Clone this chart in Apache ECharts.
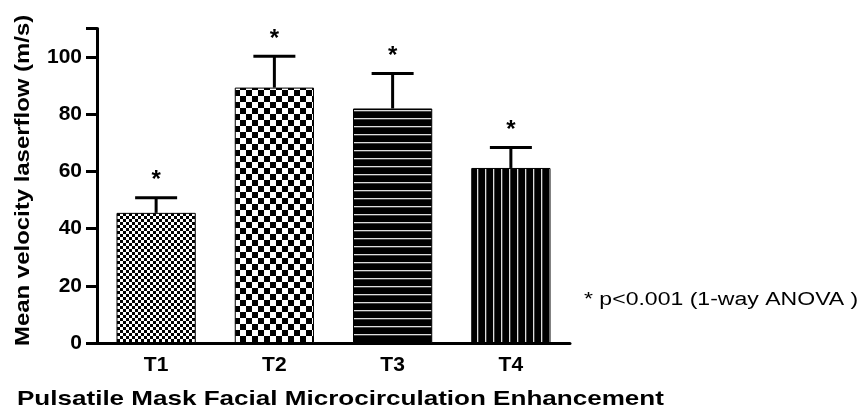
<!DOCTYPE html>
<html><head><meta charset="utf-8">
<script src="https://cdn.jsdelivr.net/npm/echarts@6/dist/echarts.min.js"></script>
<style>html,body{margin:0;padding:0;background:#fff}#c{width:868px;height:420px}</style>
</head><body><div id="c"></div>
<script>
const categories = ['T1', 'T2', 'T3', 'T4'];
const means = [45.5, 89.3, 82.0, 61.2];
const errors = [5.3, 11.0, 12.2, 7.2];
const yTicks = [0, 20, 40, 60, 80, 100];
const xTitle = 'Pulsatile Mask Facial Microcirculation Enhancement';
const yTitle = 'Mean velocity laserflow (m/s)';
const note = '* p<0.001 (1-way ANOVA )';

function makePattern(kind) {
  const c = document.createElement('canvas');
  const ctx = c.getContext('2d');
  if (kind === 'fineChecker' || kind === 'checker') {
    const s = kind === 'fineChecker' ? 3 : 6;
    c.width = c.height = s * 2;
    ctx.fillStyle = '#fff'; ctx.fillRect(0, 0, s * 2, s * 2);
    ctx.fillStyle = '#000'; ctx.fillRect(0, 0, s, s); ctx.fillRect(s, s, s, s);
  } else if (kind === 'hlines') {
    c.width = 8; c.height = 8;
    ctx.fillStyle = '#000'; ctx.fillRect(0, 0, 8, 8);
    ctx.fillStyle = '#ddd'; ctx.fillRect(0, 6, 8, 1.3);
  } else {
    c.width = 8; c.height = 8;
    ctx.fillStyle = '#000'; ctx.fillRect(0, 0, 8, 8);
    ctx.fillStyle = '#ddd'; ctx.fillRect(5, 0, 1.3, 8);
  }
  return { image: c, repeat: 'repeat' };
}
const patterns = ['fineChecker', 'checker', 'hlines', 'vlines'].map(makePattern);

const FONT = 'Liberation Sans';
const chart = echarts.init(document.getElementById('c'));
chart.setOption({
  animation: false,
  grid: { left: 97, right: 298, top: 28.4, bottom: 77, containLabel: false },
  xAxis: {
    type: 'category', data: categories,
    axisLine: { lineStyle: { color: '#000', width: 3 } },
    axisTick: { alignWithLabel: true, length: 9, lineStyle: { color: '#000', width: 3 } },
    axisLabel: { color: '#000', fontFamily: FONT, fontWeight: 'bold', fontSize: 21, margin: 12 }
  },
  yAxis: {
    type: 'value', min: 0, max: 110, interval: 20,
    axisLine: { show: true, lineStyle: { color: '#000', width: 3 } },
    axisTick: { show: true, length: 11, lineStyle: { color: '#000', width: 3 } },
    splitLine: { show: false },
    axisLabel: { color: '#000', fontFamily: FONT, fontWeight: 'bold', fontSize: 21, margin: 15,
      formatter: v => yTicks.indexOf(v) >= 0 ? String(v) : '' }
  },
  series: [
    {
      type: 'bar', barWidth: '67%',
      data: means.map((v, i) => ({ value: v, itemStyle: { color: patterns[i], borderColor: '#000', borderWidth: 1 } })),
      z: 2
    },
    {
      type: 'custom',
      data: means.map((v, i) => [i, v, errors[i]]),
      renderItem: (params, api) => {
        const x = api.value(0), m = api.value(1), e = api.value(2);
        const pTop = api.coord([x, m + e]);
        const pBase = api.coord([x, m]);
        const hw = 21;
        return {
          type: 'group',
          children: [
            { type: 'line', shape: { x1: pBase[0], y1: pBase[1], x2: pTop[0], y2: pTop[1] }, style: { stroke: '#000', lineWidth: 3 } },
            { type: 'line', shape: { x1: pTop[0] - hw, y1: pTop[1], x2: pTop[0] + hw, y2: pTop[1] }, style: { stroke: '#000', lineWidth: 3 } },
            { type: 'text', x: pTop[0], y: pTop[1] - 5, style: { text: '*', fontSize: 24, fontWeight: 'bold', fontFamily: FONT, fill: '#000', align: 'center', verticalAlign: 'bottom' } }
          ]
        };
      },
      z: 3
    }
  ],
  graphic: [
    { type: 'text', x: 17, y: 389, scaleX: 1.24, style: { text: xTitle, fontSize: 21, fontWeight: 'bold', fontFamily: FONT, fill: '#000', verticalAlign: 'top' } },
    { type: 'text', x: 23, y: 346, rotation: Math.PI / 2, scaleX: 1.14, style: { text: yTitle, fontSize: 21, fontWeight: 'bold', fontFamily: FONT, fill: '#000', align: 'left', verticalAlign: 'middle' } },
    { type: 'text', x: 584, y: 300, scaleX: 1.28, style: { text: note, fontSize: 18, fontFamily: FONT, fill: '#000', verticalAlign: 'middle' } }
  ]
});
</script></body></html>
